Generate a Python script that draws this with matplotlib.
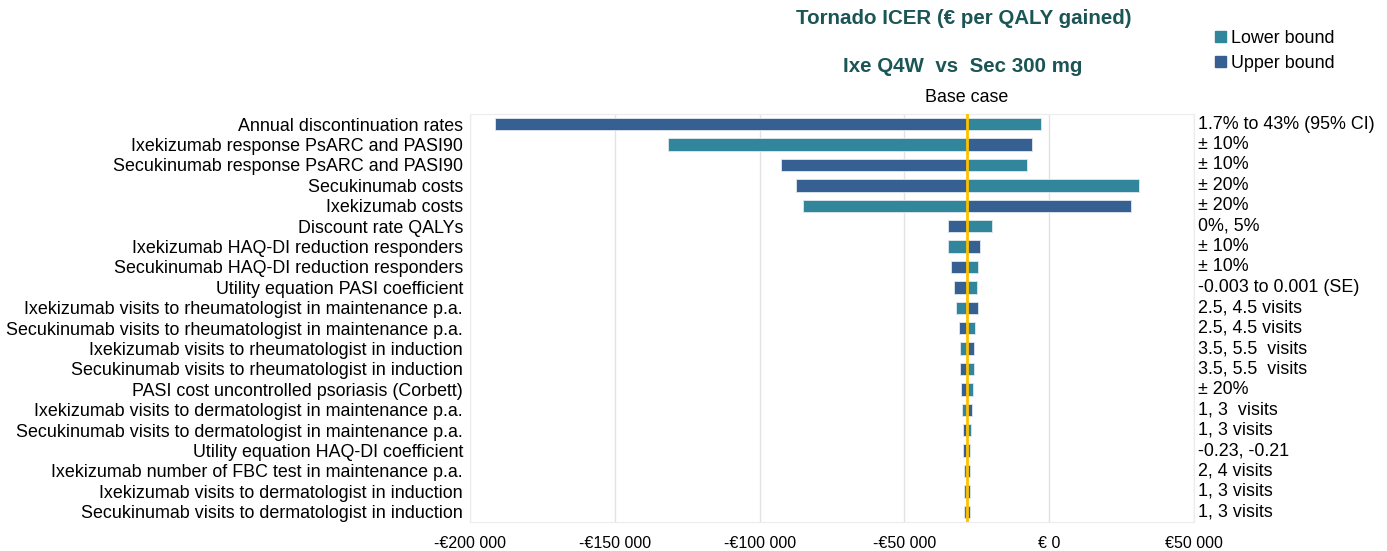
import numpy as np
import matplotlib
matplotlib.use('Agg')
import matplotlib.pyplot as plt
from matplotlib.patches import Patch
import matplotlib.transforms as mtransforms

plt.rcParams['font.family'] = ['Liberation Sans', 'DejaVu Sans']

# parameters (top to bottom)
params = ['Annual discontinuation rates',
          'Ixekizumab response PsARC and PASI90',
          'Secukinumab response PsARC and PASI90',
          'Secukinumab costs',
          'Ixekizumab costs',
          'Discount rate QALYs',
          'Ixekizumab HAQ-DI reduction responders',
          'Secukinumab HAQ-DI reduction responders',
          'Utility equation PASI coefficient',
          'Ixekizumab visits to rheumatologist in maintenance p.a.',
          'Secukinumab visits to rheumatologist in maintenance p.a.',
          'Ixekizumab visits to rheumatologist in induction',
          'Secukinumab visits to rheumatologist in induction',
          'PASI cost uncontrolled psoriasis (Corbett)',
          'Ixekizumab visits to dermatologist in maintenance p.a.',
          'Secukinumab visits to dermatologist in maintenance p.a.',
          'Utility equation HAQ-DI coefficient',
          'Ixekizumab number of FBC test in maintenance p.a.',
          'Ixekizumab visits to dermatologist in induction',
          'Secukinumab visits to dermatologist in induction']

ranges = ['1.7% to 43% (95% CI)', '\u00b1 10%', '\u00b1 10%', '\u00b1 20%', '\u00b1 20%',
          '0%, 5%', '\u00b1 10%', '\u00b1 10%', '-0.003 to 0.001 (SE)',
          '2.5, 4.5 visits', '2.5, 4.5 visits', '3.5, 5.5  visits', '3.5, 5.5  visits',
          '\u00b1 20%', '1, 3  visits', '1, 3 visits', '-0.23, -0.21', '2, 4 visits',
          '1, 3 visits', '1, 3 visits']

base = -28500

lower = [-3000, -131800, -7800, 31000, -84900, -19700, -34950, -24550, -25000, -32200,
         -25450, -30800, -25950, -26150, -30100, -27100, -27200, -29500, -29400, -29400]
upper = [-191200, -6100, -92700, -87600, 28100, -35100, -23950, -33900, -32850, -24550,
         -31250, -25950, -30800, -30550, -26600, -29650, -29650, -27200, -27300, -27300]

xticks = [-200000, -150000, -100000, -50000, 0, 50000]
xticklabels = ['-\u20ac200 000', '-\u20ac150 000', '-\u20ac100 000', '-\u20ac50 000', '\u20ac 0', '\u20ac50 000']

c_low = '#31869B'
c_up = '#366092'
fs = 12.9

fig = plt.figure(figsize=(13.87, 5.51), dpi=100)
ax = fig.add_axes([470/1387, 1-522/551, (1194-470)/1387, (522-114)/551])

y = np.arange(len(params))
lo = np.array(lower) - base
up = np.array(upper) - base
ax.barh(y, lo, left=base, height=0.6, color=c_low, edgecolor='#dfe8ee', linewidth=0.6, zorder=2)
ax.barh(y, up, left=base, height=0.6, color=c_up, edgecolor='#dfe8ee', linewidth=0.6, zorder=2)
ax.axvline(base, color='#FFC000', lw=2, zorder=3)

ax.set_xlim(-200000, 50000)
ax.set_ylim(len(params)-0.5, -0.5)
ax.set_xticks(xticks)
ax.set_xticklabels(xticklabels, fontsize=11.5)
ax.set_yticks(y)
ax.set_yticklabels(params, fontsize=fs)
ax.tick_params(length=0, pad=5)
ax.tick_params(axis='x', pad=10)
ax.grid(axis='x', color='#e3e3e3', lw=1, zorder=0)
for s in ax.spines.values():
    s.set_color('#ececec')

trans = mtransforms.blended_transform_factory(ax.transAxes, ax.transData)
for i, r in enumerate(ranges):
    ax.text(1.006, i, r, transform=trans, ha='left', va='center', fontsize=fs)

ax.text(base, -0.9, 'Base case', ha='center', va='bottom', fontsize=fs)

tc = '#1B5556'
fig.text(964/1387, 1-19/551, 'Tornado ICER (\u20ac per QALY gained)', ha='center', va='center',
         fontsize=14.8, fontweight='bold', color=tc)
fig.text(963/1387, 1-67/551, 'Ixe Q4W  vs  Sec 300 mg', ha='center', va='center',
         fontsize=14.8, fontweight='bold', color=tc)

handles = [Patch(color=c_low, label='Lower bound'), Patch(color=c_up, label='Upper bound')]
fig.legend(handles=handles, loc='upper left', bbox_to_anchor=(1206/1387, 1-21/551),
           frameon=False, fontsize=fs, handlelength=0.6, handleheight=0.6,
           handletextpad=0.3, labelspacing=0.45, borderpad=0)

fig.savefig('out.png', dpi=100)
